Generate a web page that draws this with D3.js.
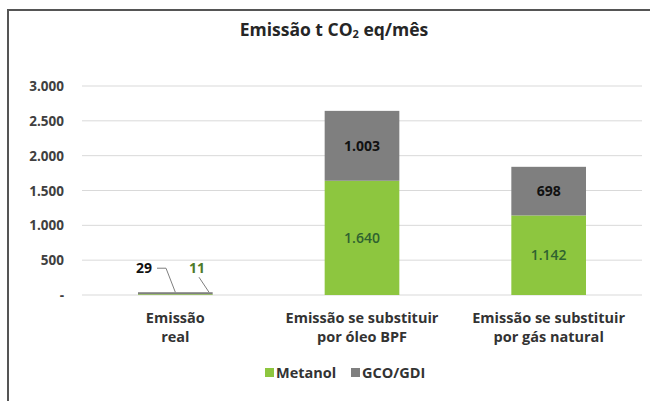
<!DOCTYPE html>
<html>
<head>
<meta charset="utf-8">
<script src="https://cdn.jsdelivr.net/npm/d3@7"></script>
<style>
  body { margin: 0; background: #fff; }
  svg text { font-family: "Open Sans", sans-serif; }
</style>
</head>
<body>
<svg id="chart" width="650" height="401"></svg>
<script>
// data
const categories = [['Emissão', 'real'], ['Emissão se substituir', 'por óleo BPF'], ['Emissão se substituir', 'por gás natural']];
const metanol = [11, 1640, 1142];
const gco = [29, 1003, 698];
const seriesNames = ['Metanol', 'GCO/GDI'];
const yTicks = [0, 500, 1000, 1500, 2000, 2500, 3000];

const svg = d3.select('#chart');

const ptBR = d3.formatLocale({decimal: ',', thousands: '.', grouping: [3], currency: ['R$', '']});
const fmt = ptBR.format(',d');

const margin = {left: 82, right: 8, top: 86, bottom: 106};
const width = 650 - margin.left - margin.right;
const height = 401 - margin.top - margin.bottom;

const colors = {Metanol: '#8dc63f', 'GCO/GDI': '#7f7f7f'};

// frame
svg.append('path')
   .attr('d', 'M8,420 L8,10 L660,10')
   .attr('fill', 'none')
   .attr('stroke', '#555')
   .attr('stroke-width', 2);

// title
let title = svg.append('text')
               .attr('x', 334)
               .attr('y', 36)
               .attr('text-anchor', 'middle')
               .attr('font-size', 17.5)
               .attr('font-weight', 'bold')
               .attr('fill', '#262626');
title.append('tspan').text('Emissão t CO');
title.append('tspan').attr('font-size', 11).attr('dy', 2).text('2');
title.append('tspan').attr('dy', -2).text(' eq/mês');

let x = d3.scaleBand()
          .domain(d3.range(categories.length))
          .range([margin.left, margin.left + width])
          .paddingInner(0.6)
          .paddingOuter(0.3);

let y = d3.scaleLinear()
          .domain([0, 3000])
          .range([margin.top + height, margin.top]);

// gridlines
svg.append('g')
   .selectAll('line')
   .data(yTicks)
   .enter()
   .append('line')
   .attr('x1', margin.left)
   .attr('x2', margin.left + width)
   .attr('y1', d => y(d))
   .attr('y2', d => y(d))
   .attr('stroke', '#d9d9d9')
   .attr('stroke-width', 1);

// y labels
svg.append('g')
   .selectAll('text')
   .data(yTicks)
   .enter()
   .append('text')
   .attr('x', 64)
   .attr('y', d => y(d) + 5)
   .attr('text-anchor', 'end')
   .attr('font-size', 13.5)
   .attr('font-weight', 'bold')
   .attr('fill', '#404040')
   .text(d => d === 0 ? '-' : fmt(d));

// stacked bars
let rows = categories.map((c, i) => ({i: i, Metanol: metanol[i], 'GCO/GDI': gco[i]}));
let stacked = d3.stack().keys(seriesNames)(rows);

svg.append('g')
   .selectAll('g')
   .data(stacked)
   .enter()
   .append('g')
   .attr('fill', d => colors[d.key])
   .selectAll('rect')
   .data(d => d)
   .enter()
   .append('rect')
   .attr('x', d => x(d.data.i))
   .attr('width', x.bandwidth())
   .attr('y', d => y(d[1]))
   .attr('height', d => y(d[0]) - y(d[1]));

// value labels inside the big bars
let labelColors = {Metanol: '#2f6230', 'GCO/GDI': '#111'};
stacked.forEach(s => {
    svg.append('g')
       .selectAll('text')
       .data(s.filter(d => d.data.i > 0))
       .enter()
       .append('text')
       .attr('x', d => x(d.data.i) + x.bandwidth() / 2)
       .attr('y', d => (y(d[0]) + y(d[1])) / 2 + 5)
       .attr('text-anchor', 'middle')
       .attr('font-size', 14)
       .attr('font-weight', s.key === 'Metanol' ? 600 : 'bold')
       .attr('fill', labelColors[s.key])
       .text(d => fmt(d[1] - d[0]));
});

// small bar: labels with leader lines
let b0 = x(0);
let bw = x.bandwidth();
let by = y(metanol[0] + gco[0]);
svg.append('text')
   .attr('x', b0 + 6)
   .attr('y', by - 19)
   .attr('text-anchor', 'middle')
   .attr('font-size', 14)
   .attr('font-weight', 'bold')
   .attr('fill', '#111')
   .text(fmt(gco[0]));
svg.append('text')
   .attr('x', b0 + 59)
   .attr('y', by - 19)
   .attr('text-anchor', 'middle')
   .attr('font-size', 14)
   .attr('font-weight', 'bold')
   .attr('fill', '#4f7a28')
   .text(fmt(metanol[0]));
svg.append('path')
   .attr('d', `M${b0 + 19},${by - 24} L${b0 + 28},${by - 24} L${b0 + bw / 2},${by}`)
   .attr('fill', 'none')
   .attr('stroke', '#7f7f7f')
   .attr('stroke-width', 1);
svg.append('path')
   .attr('d', `M${b0 + 61},${by - 15} L${b0 + 71},${by}`)
   .attr('fill', 'none')
   .attr('stroke', '#7f7f7f')
   .attr('stroke-width', 1);

// category labels
let catGroup = svg.append('g');
categories.forEach((c, i) => {
    let t = catGroup.append('text')
                    .attr('x', x(i) + bw / 2)
                    .attr('y', 323)
                    .attr('text-anchor', 'middle')
                    .attr('font-size', 14.5)
                    .attr('font-weight', 'bold')
                    .attr('fill', '#333');
    c.forEach((line, k) => {
        t.append('tspan')
         .attr('x', x(i) + bw / 2)
         .attr('dy', k === 0 ? 0 : 19)
         .text(line);
    });
});

// legend
let legendX = [265, 351];
let legend = svg.append('g')
                .selectAll('g')
                .data(seriesNames)
                .enter()
                .append('g')
                .attr('transform', (d, i) => `translate(${legendX[i]},368)`);
legend.append('rect')
      .attr('width', 9)
      .attr('height', 9)
      .attr('fill', d => colors[d]);
legend.append('text')
      .attr('x', 11)
      .attr('y', 10)
      .attr('font-size', 14.5)
      .attr('font-weight', 'bold')
      .attr('fill', '#333')
      .text(d => d);
</script>
</body>
</html>
